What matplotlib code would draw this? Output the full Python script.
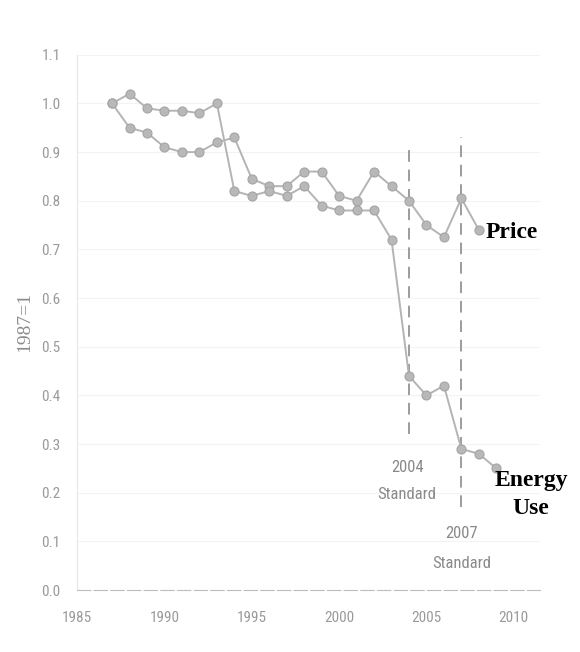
import matplotlib
matplotlib.use("Agg")
import matplotlib.pyplot as plt

# data (index, 1987 = 1)
energy_years = list(range(1987, 2010))
energy_use = [1.00, 1.02, 0.99, 0.985, 0.985, 0.98, 1.00, 0.82, 0.81, 0.82, 0.81, 0.83,
              0.79, 0.78, 0.78, 0.78, 0.72, 0.44, 0.40, 0.42, 0.29, 0.28, 0.25]
price_years = list(range(1987, 2009))
price = [1.00, 0.95, 0.94, 0.91, 0.90, 0.90, 0.92, 0.93, 0.845, 0.83, 0.83, 0.86,
         0.86, 0.81, 0.80, 0.86, 0.83, 0.80, 0.75, 0.725, 0.805, 0.74]

# standards marked with dashed lines
standard_years = [2004, 2007]
standard_top = [0.91, 0.93]
standard_bottom = [0.32, 0.17]

x_ticks = [1985, 1990, 1995, 2000, 2005, 2010]
y_ticks = [0.0, 0.1, 0.2, 0.3, 0.4, 0.5, 0.6, 0.7, 0.8, 0.9, 1.0, 1.1]

narrow = ["Liberation Sans Narrow", "Roboto Condensed", "DejaVu Sans"]
serif = ["Liberation Serif", "DejaVu Serif"]
line_gray = "#b4b4b4"
text_gray = "#9a9a9a"

fig = plt.figure(figsize=(5.8, 6.52), dpi=100)
ax = fig.add_axes([0.133, 0.095, 0.798, 0.821])

# both series drawn the same light grey
for xs, ys in [(price_years, price), (energy_years, energy_use)]:
    ax.plot(xs, ys, color=line_gray, linewidth=1.4, marker="o", markersize=6.5,
            markerfacecolor="#b8b8b8", markeredgecolor="#a4a4a4", markeredgewidth=0.8,
            zorder=3)

for yr, top, bot in zip(standard_years, standard_top, standard_bottom):
    ax.plot([yr, yr], [bot, top], color="#9c9c9c", linewidth=1.4,
            linestyle=(0, (6, 4)), zorder=2)

# annotations
ax.text(2008.4, 0.734, "Price", fontsize=17, fontweight="bold", family=serif,
        color="black", ha="left", va="center")
ax.text(2011.0, 0.226, "Energy", fontsize=17, fontweight="bold", family=serif,
        color="black", ha="center", va="center", clip_on=False)
ax.text(2011.0, 0.168, "Use", fontsize=17, fontweight="bold", family=serif,
        color="black", ha="center", va="center", clip_on=False)
ax.text(2003.9, 0.252, "2004", fontsize=12, family=narrow, color="#8a8a8a",
        ha="center", va="center")
ax.text(2003.9, 0.196, "Standard", fontsize=12, family=narrow, color="#8a8a8a",
        ha="center", va="center")
ax.text(2007.0, 0.117, "2007", fontsize=12, family=narrow, color="#8a8a8a",
        ha="center", va="center")
ax.text(2007.0, 0.055, "Standard", fontsize=12, family=narrow, color="#8a8a8a",
        ha="center", va="center")

ax.set_xlim(1985, 2011.5)
ax.set_ylim(0, 1.1)
ax.set_xticks(x_ticks)
ax.set_yticks(y_ticks)
ax.set_yticklabels(["%.1f" % v for v in y_ticks])
ax.tick_params(axis="both", length=0, colors=text_gray, labelsize=11)
ax.tick_params(axis="x", pad=15)
ax.tick_params(axis="y", pad=12)
for lab in ax.get_xticklabels() + ax.get_yticklabels():
    lab.set_family(narrow)

ax.set_ylabel("1987=1", family=serif, fontsize=14, color="#8c8c8c", labelpad=6)

ax.grid(axis="y", color="#f3f3f3", linewidth=0.8)
ax.set_axisbelow(True)
for side in ["top", "right"]:
    ax.spines[side].set_visible(False)
ax.spines["left"].set_color("#e6e6e6")
ax.spines["bottom"].set_color("#bdbdbd")
ax.spines["bottom"].set_linestyle((0, (12, 3)))

fig.savefig("out.png", dpi=100)
